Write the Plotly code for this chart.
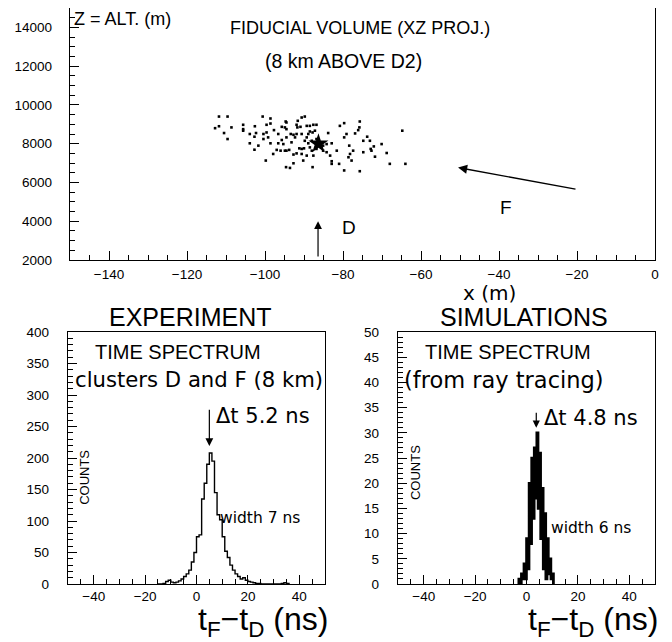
import numpy as np
import plotly.graph_objects as go

# ---------------- data ----------------
scat_x = [-111.8, -109.6, -112.8, -111.8, -110.5, -109.6, -108.6, -105.6, -105.6, -103.9,
          -102.7, -102.6, -103.9, -102.7, -101.7, -100.6, -98.6, -99.6, -98.6, -100.4,
          -100.4, -99.2, -98.6, -97.7, -96.6, -96.6, -95.7, -94.7, -94.5, -95.7,
          -95.3, -94.9, -93.8, -93.2, -92.3, -91.9, -91.6, -90.6, -89.8, -91.7,
          -90.9, -90.6, -89.3, -88.5, -87.6, -86.8, -87.8, -88.9, -89.8, -88.9,
          -90.0, -90.6, -91.9, -92.7, -90.2, -89.3, -87.6, -83.8, -82.9, -84.2,
          -83.3, -82.9, -82.9, -81.6, -81.0, -80.8, -79.7, -79.7, -79.1, -78.4,
          -78.2, -77.8, -79.7, -78.6, -77.4, -76.9, -76.1, -75.7, -75.8, -74.8,
          -74.8, -73.8, -73.1, -72.9, -72.7, -72.1, -71.8, -70.1, -68.8, -68.0,
          -64.8, -64.0, -75.7, -87.8, -94.6, -93.6, -99.8, -97.9, -96.0, -94.5,
          -92.7, -91.2, -93.4, -92.7, -94.5, -91.9, -90.6, -88.5, -88.0, -86.8,
          -85.1, -85.1, -84.2, -97.0, -94.9, -99.6, -102.3, -105.6, -94.5, -88.5,
          -87.2, -88.0, -86.8, -89.3]
scat_z = [9400, 9400, 8800, 8900, 8550, 8240, 8840, 8975, 8670, 8500,
          8360, 8900, 8020, 7690, 7900, 9400, 9300, 8975, 9040, 8500,
          8240, 8325, 8020, 8700, 8500, 8020, 8870, 9145, 8750, 8190,
          7980, 7640, 7680, 8070, 8325, 8975, 9180, 9350, 9400, 8840,
          8870, 8500, 8325, 8920, 8975, 8975, 8580, 8500, 8150, 8020,
          7760, 7470, 7500, 7440, 7130, 7385, 7385, 8550, 8020, 7560,
          7385, 7095, 6960, 7640, 6960, 8920, 9060, 8325, 8500, 7900,
          7470, 7130, 6620, 7300, 7640, 8530, 8700, 9145, 8840, 8150,
          7560, 8360, 8150, 7730, 7640, 7860, 7330, 7980, 7520, 6960,
          8670, 6960, 6580, 6790, 6790, 6750, 7130, 7470, 7640, 7640,
          6990, 7760, 8500, 8460, 8325, 8500, 7730, 7810, 7640, 7730,
          7900, 7640, 7980, 7680, 8840, 8580, 8550, 8750, 9095, 8630,
          8670, 8150, 8240, 8920]
star_x = [-86.3]
star_z = [8000]

exp_edges = np.arange(-15, 37, 1.0)
exp_counts = [0, 0, 1, 4, 6, 3, 2, 3, 5, 8,
              12, 16, 22, 35, 50, 75, 78, 135, 160, 190,
              208, 195, 145, 110, 102, 75, 52, 42, 30, 22,
              16, 12, 8, 10, 6, 4, 3, 2, 1, 1,
              0, 0, 0, 0, 0, 0, 0, 0, 1, 2, 1]

sim_edges = np.arange(-3.0, 11.01, 0.5)
sim_counts = [1, 0, 2, 1, 4, 1, 9, 3, 20, 8,
              25, 13, 27, 17, 30, 15, 26, 9, 19, 3,
              14, 1, 9, 2, 5, 1, 2, 0]

FONT = "Liberation Sans"
FONT2 = "DejaVu Sans"

# the page body has an 8px margin: lay the figure out on the visible 664x634 area
W, H = 664, 634


def px(s):
    return (s - 8) / W


def py(s):
    return 1 - (s - 8) / H


def step_xy(edges, counts):
    xs = list(edges[:len(counts) + 1]) + [edges[len(counts)]]
    ys = [0] + list(counts) + [0]
    return xs, ys


fig = go.Figure()

fig.add_trace(go.Scatter(x=scat_x, y=scat_z, mode="markers",
                         marker=dict(symbol="square", size=2.6, color="black"),
                         xaxis="x", yaxis="y", showlegend=False))
fig.add_trace(go.Scatter(x=star_x, y=star_z, mode="markers",
                         marker=dict(symbol="star", size=15, color="black"),
                         xaxis="x", yaxis="y", showlegend=False))

ex, ey = step_xy(exp_edges, exp_counts)
fig.add_trace(go.Scatter(x=ex, y=ey, mode="lines", line=dict(shape="vh", color="black", width=1.4),
                         xaxis="x2", yaxis="y2", showlegend=False))
sx, sy = step_xy(sim_edges, sim_counts)
fig.add_trace(go.Scatter(x=sx, y=sy, mode="lines", line=dict(shape="vh", color="black", width=2.6),
                         xaxis="x3", yaxis="y3", showlegend=False))

tickfont = dict(family=FONT, size=13.5, color="black")


def ax(domain, rng, dtick, mdtick, anchor, standoff, tick0=0, **kw):
    d = dict(domain=domain, range=rng, dtick=dtick, tick0=tick0, anchor=anchor,
             showline=True, mirror=True, linecolor="black", linewidth=1.4,
             ticks="inside", ticklen=9, tickwidth=1.2, tickcolor="black",
             minor=dict(ticks="inside", ticklen=5, dtick=mdtick, tickwidth=1, tickcolor="black",
                        showgrid=False),
             showgrid=False, zeroline=False, tickfont=tickfont, tickformat="d",
             ticklabelstandoff=standoff, automargin=False)
    d.update(kw)
    return d


fig.update_layout(
    width=W, height=H,
    margin=dict(l=0, r=0, t=0, b=0, pad=0, autoexpand=False),
    paper_bgcolor="white", plot_bgcolor="white",
    xaxis=ax([px(70), px(655)], [-150, 0], 20, 5, "y", 2),
    yaxis=ax([py(260), py(8)], [2000, 15000], 2000, 500, "x", 14),
    xaxis2=ax([px(68), px(325)], [-50, 50], 20, 5, "y2", 0),
    yaxis2=ax([py(584), py(332)], [0, 400], 50, 10, "x2", 15),
    xaxis3=ax([px(398), px(655)], [-50, 50], 20, 5, "y3", 0),
    yaxis3=ax([py(584), py(332)], [0, 50], 5, 1, "x3", 15),
)

ann = []


def txt(x, y, text, size, xref, yref, xanchor="center", angle=0, family=FONT):
    ann.append(dict(x=x, y=y, text=text, xref=xref, yref=yref, showarrow=False,
                    xanchor=xanchor, yanchor="middle", textangle=angle,
                    font=dict(family=family, size=size, color="black")))


# top panel
txt(-149.5, 14420, "Z = ALT. (m)", 18, "x", "y", xanchor="left")
txt(-75.6, 13950, "FIDUCIAL VOLUME (XZ PROJ.)", 18, "x", "y")
txt(-80.0, 12260, "(8 km ABOVE D2)", 19.5, "x", "y")
txt(-78.5, 3690, "D", 19, "x", "y")
txt(-38.2, 4720, "F", 19, "x", "y")
txt(px(489), py(293), "x (m)", 20, "paper", "paper", family=FONT2)
ann.append(dict(x=-86.4, y=4000, ax=-86.4, ay=2100, xref="x", yref="y", axref="x", ayref="y",
                showarrow=True, arrowhead=2, arrowsize=1.3, arrowwidth=1.2, arrowcolor="black", text=""))
ann.append(dict(x=-50.5, y=6770, ax=-20, ay=5640, xref="x", yref="y", axref="x", ayref="y",
                showarrow=True, arrowhead=2, arrowsize=1.3, arrowwidth=1.4, arrowcolor="black", text=""))

# bottom left
txt(px(190), py(317), "EXPERIMENT", 25, "paper", "paper")
txt(-7.2, 368, "TIME SPECTRUM", 20, "x2", "y2")
txt(1.1, 325, "clusters D and F (8 km)", 21.2, "x2", "y2", family=FONT2)
txt(25.8, 267, "Δt 5.2 ns", 21, "x2", "y2", family=FONT2)
txt(24.8, 105, "width 7 ns", 15.5, "x2", "y2", family=FONT2)
txt(-43.4, 170, "COUNTS", 13, "x2", "y2", angle=-90)
txt(px(263), py(621), "t<sub>F</sub>−t<sub>D</sub> (ns)", 32, "paper", "paper")
ann.append(dict(x=5, y=219, ax=5, ay=279, xref="x2", yref="y2", axref="x2", ayref="y2",
                showarrow=True, arrowhead=2, arrowsize=1.3, arrowwidth=1.2, arrowcolor="black", text=""))

# bottom right
txt(px(524), py(317), "SIMULATIONS", 25, "paper", "paper")
txt(-7.2, 46, "TIME SPECTRUM", 20, "x3", "y3")
txt(-8.8, 40.5, "(from ray tracing)", 22.5, "x3", "y3", family=FONT2)
txt(25.1, 33, "Δt 4.8 ns", 21, "x3", "y3", family=FONT2)
txt(25.1, 11.1, "width 6 ns", 15.5, "x3", "y3", family=FONT2)
txt(-43.4, 22.2, "COUNTS", 13, "x3", "y3", angle=-90)
txt(px(593), py(621), "t<sub>F</sub>−t<sub>D</sub> (ns)", 32, "paper", "paper")
ann.append(dict(x=3.8, y=31, ax=3.8, ay=34.3, xref="x3", yref="y3", axref="x3", ayref="y3",
                showarrow=True, arrowhead=2, arrowsize=1.2, arrowwidth=1.2, arrowcolor="black", text=""))

fig.update_layout(annotations=ann)
fig.write_html("out.html")
